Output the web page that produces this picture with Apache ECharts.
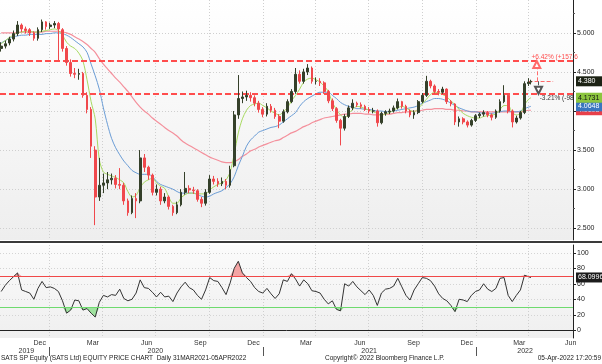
<!DOCTYPE html>
<html><head><meta charset="utf-8">
<script src="https://cdn.jsdelivr.net/npm/echarts@6/dist/echarts.min.js"></script>
<style>html,body{margin:0;padding:0;background:#fff}#c{width:602px;height:364px}</style>
</head><body><div id="c"></div>
<script>
const weeks = ['2019-10-11','2019-10-18','2019-10-25','2019-11-01','2019-11-08','2019-11-15','2019-11-22','2019-11-29','2019-12-06','2019-12-13','2019-12-20','2019-12-27',
'2020-01-03','2020-01-10','2020-01-17','2020-01-24','2020-01-31','2020-02-07','2020-02-14','2020-02-21','2020-02-28','2020-03-06','2020-03-13','2020-03-20','2020-03-27',
'2020-04-03','2020-04-10','2020-04-17','2020-04-24','2020-05-01','2020-05-08','2020-05-15','2020-05-22','2020-05-29','2020-06-05','2020-06-12','2020-06-19','2020-06-26',
'2020-07-03','2020-07-10','2020-07-17','2020-07-24','2020-07-31','2020-08-07','2020-08-14','2020-08-21','2020-08-28','2020-09-04','2020-09-11','2020-09-18','2020-09-25',
'2020-10-02','2020-10-09','2020-10-16','2020-10-23','2020-10-30','2020-11-06','2020-11-13','2020-11-20','2020-11-27','2020-12-04','2020-12-11','2020-12-18','2020-12-25',
'2021-01-01','2021-01-08','2021-01-15','2021-01-22','2021-01-29','2021-02-05','2021-02-12','2021-02-19','2021-02-26','2021-03-05','2021-03-12','2021-03-19','2021-03-26',
'2021-04-02','2021-04-09','2021-04-16','2021-04-23','2021-04-30','2021-05-07','2021-05-14','2021-05-21','2021-05-28','2021-06-04','2021-06-11','2021-06-18','2021-06-25',
'2021-07-02','2021-07-09','2021-07-16','2021-07-23','2021-07-30','2021-08-06','2021-08-13','2021-08-20','2021-08-27','2021-09-03','2021-09-10','2021-09-17','2021-09-24',
'2021-10-01','2021-10-08','2021-10-15','2021-10-22','2021-10-29','2021-11-05','2021-11-12','2021-11-19','2021-11-26','2021-12-03','2021-12-10','2021-12-17','2021-12-24','2021-12-31',
'2022-01-07','2022-01-14','2022-01-21','2022-01-28','2022-02-04','2022-02-11','2022-02-18','2022-02-25','2022-03-04','2022-03-11','2022-03-18','2022-03-25','2022-04-01','2022-04-05'];

const opens = [4.80,4.83,4.87,4.92,4.99,5.10,5.05,5.04,5.00,4.93,5.04,5.14,5.08,5.10,5.12,5.04,4.80,4.62,4.48,4.47,
4.48,4.20,4.02,3.50,2.90,3.05,3.08,3.12,3.14,3.06,3.05,2.85,2.70,2.88,2.85,3.40,3.28,3.18,2.96,3.00,
2.85,2.90,2.78,2.70,2.80,2.96,3.01,2.99,2.98,2.87,2.82,2.96,3.13,3.10,3.07,3.10,3.05,3.30,3.95,4.16,
4.18,4.20,4.17,4.10,4.02,3.96,4.06,4.01,3.93,3.87,3.99,4.12,4.25,4.47,4.38,4.50,4.55,4.38,4.38,4.36,
4.25,4.13,4.03,3.88,3.78,3.93,4.04,4.10,4.08,4.06,4.02,4.00,4.00,3.85,3.97,3.99,4.00,4.04,4.12,4.06,
4.00,3.95,3.98,4.12,4.20,4.38,4.32,4.25,4.24,4.28,4.12,4.09,3.86,3.90,3.86,3.82,3.88,3.94,3.96,3.98,
3.95,3.92,4.00,4.12,4.20,4.00,3.86,3.91,3.98,4.35,4.37];
const highs = [4.88,4.90,4.95,5.03,5.15,5.12,5.08,5.06,5.02,5.07,5.17,5.15,5.13,5.15,5.14,5.06,4.83,4.66,4.55,4.54,
4.50,4.24,4.05,3.55,3.40,3.20,3.22,3.20,3.18,3.27,3.08,2.88,2.92,2.95,3.50,3.45,3.30,3.20,3.06,3.03,
2.95,2.92,2.80,2.84,3.00,3.22,3.05,3.03,3.00,2.90,3.00,3.18,3.17,3.14,3.15,3.13,3.30,4.00,4.46,4.25,
4.26,4.24,4.20,4.13,4.05,4.10,4.09,4.04,3.96,4.02,4.15,4.28,4.55,4.52,4.54,4.60,4.57,4.43,4.42,4.38,
4.27,4.16,4.05,3.90,3.96,4.07,4.15,4.12,4.11,4.08,4.05,4.04,4.02,3.99,4.01,4.03,4.07,4.16,4.13,4.08,
4.02,4.01,4.14,4.23,4.45,4.40,4.34,4.28,4.31,4.29,4.14,4.10,3.93,3.92,3.88,3.90,3.96,3.98,4.01,4.00,
3.97,4.02,4.15,4.33,4.22,4.02,3.94,4.00,4.38,4.42,4.40];
const lows = [4.76,4.80,4.84,4.89,4.96,5.01,4.99,4.96,4.90,4.90,5.01,5.04,5.05,5.06,4.65,4.76,4.58,4.44,4.42,4.40,
4.17,3.97,3.40,2.54,2.85,2.95,3.00,3.06,3.01,3.00,2.80,2.66,2.68,2.63,2.82,3.22,3.12,2.92,2.92,2.80,
2.82,2.74,2.66,2.68,2.78,2.93,2.95,2.94,2.84,2.77,2.79,2.94,3.06,3.03,3.04,3.00,3.02,3.28,3.90,4.10,
4.13,4.12,4.06,3.98,3.92,3.93,3.98,3.90,3.78,3.85,3.97,4.10,4.22,4.35,4.35,4.46,4.35,4.34,4.32,4.22,
4.10,4.00,3.85,3.56,3.75,3.91,4.01,4.05,4.03,4.00,3.97,3.97,3.80,3.83,3.94,3.96,3.98,4.02,4.03,3.97,
3.92,3.90,3.96,4.10,4.18,4.29,4.22,4.20,4.22,4.09,4.06,3.82,3.80,3.83,3.79,3.80,3.86,3.91,3.93,3.92,
3.88,3.90,3.98,4.10,3.97,3.79,3.84,3.89,3.96,4.32,4.34];
const closes = [4.83,4.86,4.92,4.99,5.10,5.05,5.03,5.00,4.93,5.04,5.14,5.08,5.10,5.12,5.05,4.80,4.62,4.48,4.47,4.48,
4.20,4.02,3.55,2.90,3.05,3.08,3.12,3.14,3.06,3.05,2.85,2.70,2.88,2.85,3.40,3.28,3.18,2.96,3.00,2.85,
2.90,2.78,2.70,2.80,2.96,3.01,2.99,2.98,2.87,2.82,2.96,3.13,3.10,3.07,3.10,3.05,3.25,3.95,4.16,4.18,
4.20,4.17,4.10,4.02,3.96,4.06,4.01,3.93,3.87,3.99,4.12,4.25,4.47,4.38,4.50,4.55,4.38,4.38,4.36,4.25,
4.13,4.03,3.88,3.78,3.93,4.04,4.10,4.08,4.06,4.02,4.00,4.00,3.85,3.97,3.99,4.00,4.04,4.12,4.06,4.00,
3.95,3.98,4.12,4.20,4.38,4.32,4.25,4.24,4.28,4.12,4.09,3.86,3.90,3.86,3.82,3.88,3.94,3.96,3.98,3.95,
3.92,4.00,4.12,4.20,4.00,3.86,3.91,3.98,4.35,4.37,4.38];

const maFast = [4.86,4.90,4.94,4.97,5.00,5.01,5.02,5.02,5.01,5.01,5.02,5.03,5.04,5.05,5.03,4.97,4.88,4.83,4.80,4.74,
4.64,4.40,4.12,3.90,3.38,3.22,3.19,3.17,3.15,3.12,3.08,2.97,2.90,2.92,3.02,3.09,3.12,3.14,3.08,3.04,
3.01,2.90,2.82,2.82,2.89,2.93,2.95,2.95,2.94,2.94,2.94,2.99,3.03,3.06,3.08,3.12,3.22,3.45,3.72,3.90,
4.01,4.07,4.09,4.10,4.07,4.04,4.00,3.97,3.95,3.99,4.04,4.13,4.20,4.28,4.37,4.41,4.42,4.40,4.37,4.32,
4.25,4.11,4.02,3.95,3.91,3.97,4.02,4.06,4.05,4.03,4.01,3.99,3.97,3.95,3.96,3.98,4.01,4.04,4.06,4.04,
4.01,3.99,4.03,4.09,4.15,4.21,4.24,4.23,4.21,4.18,4.13,4.08,4.02,3.97,3.94,3.92,3.91,3.91,3.93,3.94,
3.95,3.96,4.02,4.07,4.07,3.98,3.95,3.97,4.08,4.15,4.17];
const maMid = [4.87,4.90,4.93,4.95,4.96,4.97,4.97,4.98,4.98,4.98,4.98,4.99,4.99,5.00,5.00,4.99,4.97,4.94,4.90,4.86,
4.82,4.75,4.60,4.45,4.28,4.04,3.83,3.65,3.53,3.44,3.36,3.30,3.24,3.21,3.19,3.19,3.19,3.16,3.10,3.06,
3.04,3.02,3.00,2.97,2.95,2.95,2.95,2.95,2.93,2.91,2.90,2.91,2.94,2.96,2.98,3.02,3.07,3.16,3.30,3.42,
3.55,3.63,3.68,3.73,3.75,3.77,3.79,3.80,3.82,3.86,3.90,3.94,3.98,4.06,4.12,4.16,4.19,4.22,4.24,4.24,
4.24,4.20,4.16,4.11,4.08,4.06,4.05,4.03,4.03,4.02,4.02,4.01,4.00,4.00,3.99,3.99,4.00,4.01,4.02,4.03,
4.04,4.05,4.07,4.10,4.12,4.14,4.16,4.16,4.15,4.13,4.10,4.07,4.04,4.02,4.00,3.99,3.99,3.98,3.97,3.97,
3.97,3.98,3.99,4.00,4.00,3.99,3.99,4.00,4.03,4.05,4.06];
const maSlow = [5.00,5.00,5.00,5.00,5.00,5.01,5.01,5.01,5.01,5.01,5.01,5.02,5.02,5.02,5.02,5.01,5.00,4.98,4.95,4.92,
4.89,4.85,4.80,4.75,4.67,4.60,4.54,4.48,4.42,4.37,4.31,4.25,4.18,4.11,4.05,4.00,3.96,3.91,3.87,3.83,
3.79,3.75,3.72,3.68,3.63,3.59,3.56,3.53,3.50,3.47,3.44,3.41,3.39,3.37,3.35,3.34,3.34,3.35,3.38,3.42,
3.45,3.49,3.51,3.54,3.56,3.58,3.60,3.62,3.63,3.66,3.69,3.72,3.74,3.77,3.80,3.82,3.85,3.87,3.89,3.91,
3.92,3.93,3.94,3.95,3.96,3.96,3.97,3.97,3.97,3.96,3.96,3.95,3.95,3.95,3.96,3.96,3.97,3.98,3.98,3.99,
3.99,4.00,4.00,4.01,4.02,4.02,4.03,4.03,4.03,4.02,4.02,4.01,4.01,4.00,4.00,3.99,3.99,3.99,3.99,3.99,
3.99,3.99,3.99,3.99,3.99,3.99,3.99,3.99,4.00,4.01,4.01];

const rsi = [50,58,64,69,74,52,50,48,40,54,63,55,56,54,50,38,22,26,39,38,
26,28,22,17,36,45,43,46,45,53,41,38,40,48,65,55,54,49,43,49,
43,44,37,48,56,62,55,52,45,40,52,68,64,63,55,46,61,80,89,74,
68,63,55,50,48,54,47,41,47,65,63,73,66,57,65,60,51,50,48,40,
34,38,27,25,60,57,63,56,51,46,52,45,32,48,53,54,57,67,56,45,
39,52,60,68,67,64,57,47,41,38,32,24,40,39,37,45,50,52,60,53,
50,54,67,68,45,37,45,52,71,69,68];

const priceTicks = [2.5,3.0,3.5,4.0,4.5,5.0];
const priceMinorTicks = [2.75,3.25,3.75,4.25,4.75,5.25];
const rsiTicks = [0,20,40,60,80,100];
const rsiBands = [70,30];
const quarterStarts = ['2020-01-01','2020-04-01','2020-07-01','2020-10-01','2021-01-01','2021-04-01','2021-07-01','2021-10-01','2022-01-01','2022-04-01'];
const monthLabelDates = ['2019-12-16','2020-03-16','2020-06-16','2020-09-16','2020-12-16','2021-03-16','2021-06-16','2021-09-16','2021-12-16','2022-03-16','2022-06-12'];
const monthLabels = ['Dec','Mar','Jun','Sep','Dec','Mar','Jun','Sep','Dec','Mar','Jun'];
const yearLabelDates = ['2019-11-23','2020-07-01','2021-07-02','2022-03-26'];
const yearLabels = ['2019','2020','2021','2022'];
const yearStarts = ['2020-01-01','2021-01-01','2022-01-01'];
const lastPrice = 4.380;
const maLast = [4.1731, 4.0648, 4.0103];
const rsiLast = 68.0996;
const targetUp = 4.64, targetDown = 4.22;
const upText = '+6.42% (+157.6', downText = '-3.21% (-98';

const P = s => Date.parse(s + 'T00:00:00Z');
const quarterT = quarterStarts.map(P);
const monthT = monthLabelDates.map(P);
const yearT = yearLabelDates.map(P);
const yearStartT = yearStarts.map(P);
const xMin = P('2019-10-09'), xMax = P('2022-06-16');
const FONT = 'Liberation Sans';

const candleData = weeks.map((d,i)=>[P(d), opens[i], closes[i], lows[i], highs[i]]);
const pair = arr => weeks.map((d,i)=>[P(d), arr[i]]);

const gridBg = (a,b)=>({type:'linear',x:0,y:0,x2:0,y2:1,colorStops:[{offset:0,color:a},{offset:1,color:b}]});

function boxLabel(bg, fg, txt){
  return {show:true, position:'end', distance:3, formatter: txt, backgroundColor:bg, color:fg,
    fontSize:7, fontFamily:FONT, padding:[1,2,1,2], width:22, lineHeight:8};
}
const hiddenLine = {color:'transparent', width:1};

const option = {
  animation:false,
  textStyle:{fontFamily:FONT},
  grid:[
    {left:0, right:29, top:0, height:240, show:true, borderWidth:0, backgroundColor:gridBg('#ffffff','#eeeeee'), outerBoundsMode:'none', containLabel:false},
    {left:0, right:29, top:245, height:93, show:true, borderWidth:0, backgroundColor:gridBg('#fbfbfb','#efefef'), outerBoundsMode:'none', containLabel:false}
  ],
  xAxis:[
    {type:'value', gridIndex:0, position:'bottom', min:xMin, max:xMax, axisLine:{show:false}, axisLabel:{show:false},
     axisTick:{show:false, customValues:quarterT}, splitLine:{show:true, lineStyle:{color:'#cfcfcf', type:[1,2]}}},
    {type:'value', gridIndex:1, position:'bottom', min:xMin, max:xMax, axisLine:{show:true, lineStyle:{color:'#222', width:1}},
     axisTick:{show:false, customValues:quarterT},
     axisLabel:{show:true, customValues:monthT, margin:2, fontSize:7, color:'#333', fontFamily:FONT,
       formatter:(v)=>monthLabels[monthT.indexOf(v)] || ''},
     splitLine:{show:true, lineStyle:{color:'#cfcfcf', type:[1,2]}}},
    {type:'value', gridIndex:1, position:'bottom', min:xMin, max:xMax, offset:9, axisLine:{show:false},
     axisTick:{show:true, customValues:yearStartT, length:9, inside:false, lineStyle:{color:'#555'}},
     axisLabel:{show:true, customValues:yearT, margin:1, fontSize:7, color:'#333', fontFamily:FONT,
       formatter:(v)=>yearLabels[yearT.indexOf(v)] || ''},
     splitLine:{show:false}}
  ],
  yAxis:[
    {type:'value', gridIndex:0, position:'right', min:2.35, max:5.42,
     axisLine:{show:true, lineStyle:{color:'#222'}},
     axisTick:{show:true, customValues:priceTicks, length:3, lineStyle:{color:'#222'}},
     axisLabel:{show:true, customValues:priceTicks, margin:4, fontSize:7, color:'#222', fontFamily:FONT, formatter:v=>v.toFixed(3)},
     splitLine:{show:true, lineStyle:{color:'#cfcfcf', type:[1,2]}}},
    {type:'value', gridIndex:0, position:'right', min:2.35, max:5.42,
     axisLine:{show:false}, axisTick:{show:true, customValues:priceMinorTicks, length:2, lineStyle:{color:'#555'}},
     axisLabel:{show:false}, splitLine:{show:false}},
    {type:'value', gridIndex:1, position:'right', min:-10, max:110,
     axisLine:{show:true, lineStyle:{color:'#222'}},
     axisTick:{show:true, customValues:rsiTicks, length:3, lineStyle:{color:'#222'}},
     axisLabel:{show:true, customValues:rsiTicks, margin:4, fontSize:7, color:'#222', fontFamily:FONT},
     splitLine:{show:true, lineStyle:{color:'#d4d4d4', type:[1,2]}}}
  ],
  series:[
    {type:'line', name:'MA slow', xAxisIndex:0, yAxisIndex:0, data:pair(maSlow), showSymbol:false, smooth:0.3, z:2,
     lineStyle:{color:'#f4909c', width:1.2},
     markLine:{silent:true, symbol:'none', data:[{yAxis:maLast[2]}], lineStyle:hiddenLine, label:boxLabel('#e8404a','#fff', maLast[2].toFixed(4))}},
    {type:'line', name:'MA mid', xAxisIndex:0, yAxisIndex:0, data:pair(maMid), showSymbol:false, smooth:0.3, z:3,
     lineStyle:{color:'#6b9dd6', width:1},
     markLine:{silent:true, symbol:'none', data:[{yAxis:maLast[1]}], lineStyle:hiddenLine, label:boxLabel('#3a76bf','#fff', maLast[1].toFixed(4))}},
    {type:'line', name:'MA fast', xAxisIndex:0, yAxisIndex:0, data:pair(maFast), showSymbol:false, smooth:0.3, z:4,
     lineStyle:{color:'#a9da62', width:1},
     markLine:{silent:true, symbol:'none', data:[{yAxis:maLast[0]}], lineStyle:hiddenLine, label:boxLabel('#8cc63f','#111', maLast[0].toFixed(4))}},
    {type:'candlestick', name:'SATS', xAxisIndex:0, yAxisIndex:0, data:candleData, barWidth:2.2, z:5,
     itemStyle:{color:'#35402a', color0:'#f0484c', borderColor:'#35402a', borderColor0:'#f0484c', borderWidth:1},
     markLine:{silent:true, symbol:'none',
       data:[
         {yAxis:targetUp, lineStyle:{color:'#ff4d4d', width:2, type:[6,3]}, label:{show:false}},
         {yAxis:targetDown, lineStyle:{color:'#ff4d4d', width:2, type:[6,3]}, label:{show:false}},
         {yAxis:lastPrice, lineStyle:hiddenLine, label:boxLabel('#1c2214','#fff', lastPrice.toFixed(3))},
         [{coord:[P('2022-04-01'), lastPrice], lineStyle:{color:'#ff6b6b', width:1}, label:{show:false}}, {coord:[P('2022-05-13'), lastPrice]}],
         [{coord:[P('2022-04-15'), lastPrice], symbol:'none', lineStyle:{color:'#ff6b6b', width:1}, label:{show:false}}, {coord:[P('2022-04-15'), targetUp-0.045], symbol:'emptyTriangle', symbolSize:7}],
         [{coord:[P('2022-04-18'), lastPrice], symbol:'none', lineStyle:{color:'#555', width:1}, label:{show:false}}, {coord:[P('2022-04-18'), targetDown+0.045], symbol:'emptyTriangle', symbolSize:7, symbolRotate:180}]
       ]},
     markPoint:{silent:true, symbol:'rect', symbolSize:0,
       data:[
         {coord:[P('2022-04-06'), 4.69], label:{show:true, position:'right', distance:0, formatter:upText, color:'#ff4d4d', fontSize:6.5, fontFamily:FONT}},
         {coord:[P('2022-04-20'), 4.16], label:{show:true, position:'right', distance:0, formatter:downText, color:'#333', fontSize:6.5, fontFamily:FONT}}
       ]}},
    {type:'line', name:'RSI>70', xAxisIndex:1, yAxisIndex:2, data:pair(rsi.map(v=>Math.max(v, rsiBands[0]))), showSymbol:false, z:2,
     lineStyle:{width:0, color:'transparent'}, areaStyle:{origin:rsiBands[0], color:'#f4a4a4', opacity:1}},
    {type:'line', name:'RSI<30', xAxisIndex:1, yAxisIndex:2, data:pair(rsi.map(v=>Math.min(v, rsiBands[1]))), showSymbol:false, z:2,
     lineStyle:{width:0, color:'transparent'}, areaStyle:{origin:rsiBands[1], color:'#9fe29f', opacity:1}},
    {type:'line', name:'RSI', xAxisIndex:1, yAxisIndex:2, data:pair(rsi), showSymbol:false, z:4,
     lineStyle:{color:'#333', width:1},
     markLine:{silent:true, symbol:'none',
       data:[
         {yAxis:rsiBands[0], lineStyle:{color:'#f04848', width:1.2, type:'solid'}, label:{show:false}},
         {yAxis:rsiBands[1], lineStyle:{color:'#6edb6e', width:1.2, type:'solid'}, label:{show:false}},
         {yAxis:rsiLast, lineStyle:hiddenLine, label:boxLabel('#1c1c1c','#fff', rsiLast.toFixed(4))}
       ]}}
  ],
  graphic:[
    {type:'rect', left:0, top:241, shape:{width:602, height:2}, style:{fill:'#3a3a3a'}, silent:true},
    {type:'text', left:1, top:355, style:{text:'SATS SP Equity (SATS Ltd) EQUITY PRICE CHART  Daily 31MAR2021-05APR2022', font:'6.5px Liberation Sans', fill:'#222'}},
    {type:'text', left:325, top:355, style:{text:'Copyright\u00a9 2022 Bloomberg Finance L.P.', font:'6.5px Liberation Sans', fill:'#222'}},
    {type:'text', right:1, top:355, style:{text:'05-Apr-2022 17:20:59', font:'6.5px Liberation Sans', fill:'#222'}}
  ]
};
const chart = echarts.init(document.getElementById('c'), null, {renderer:'canvas'});
chart.setOption(option);
</script></body></html>
